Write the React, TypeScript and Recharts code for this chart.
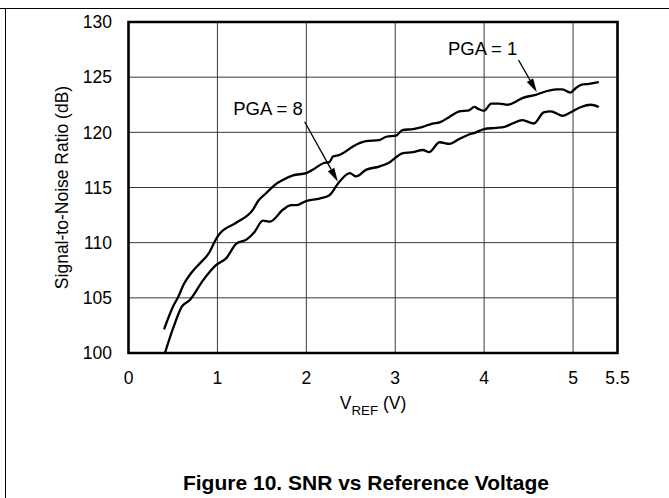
import React from 'react';
import { LineChart, Line, XAxis, YAxis, CartesianGrid, ReferenceArea, ReferenceLine, ReferenceDot } from 'recharts';

const FONT = '"Liberation Sans", Arial, Helvetica, sans-serif';

// PGA = 1 (upper trace)
const pga1Vref = [0.4, 0.5, 0.56, 0.62, 0.71, 0.8, 0.9, 0.99, 1.03, 1.21, 1.4, 1.46, 1.55, 1.64, 1.74, 1.85, 2.0, 2.07, 2.19, 2.26, 2.3, 2.37, 2.41, 2.52, 2.67, 2.82, 2.9, 3.01, 3.08, 3.2, 3.31, 3.42, 3.5, 3.61, 3.72, 3.83, 3.89, 3.94, 4.0, 4.08, 4.17, 4.26, 4.36, 4.43, 4.58, 4.69, 4.81, 4.88, 4.97, 5.03, 5.09, 5.18, 5.29];
const pga1Snr = [102.15, 104.2, 105.1, 106.2, 107.3, 108.1, 109.0, 110.4, 110.85, 111.8, 113.0, 113.8, 114.5, 115.2, 115.7, 116.1, 116.3, 116.6, 117.2, 117.3, 117.8, 117.95, 118.1, 118.7, 119.2, 119.3, 119.6, 119.7, 120.2, 120.3, 120.5, 120.8, 120.9, 121.4, 121.9, 122.0, 122.3, 122.1, 121.95, 122.6, 122.6, 122.5, 122.8, 123.1, 123.4, 123.7, 123.9, 123.9, 123.6, 124.0, 124.3, 124.4, 124.55];

// PGA = 8 (lower trace)
const pga8Vref = [0.41, 0.5, 0.6, 0.69, 0.84, 0.99, 1.1, 1.21, 1.33, 1.42, 1.51, 1.59, 1.74, 1.83, 1.89, 1.99, 2.15, 2.26, 2.37, 2.49, 2.56, 2.67, 2.82, 2.93, 3.08, 3.2, 3.31, 3.38, 3.5, 3.61, 3.72, 3.83, 3.91, 4.0, 4.13, 4.23, 4.32, 4.43, 4.56, 4.67, 4.75, 4.88, 4.97, 5.09, 5.2, 5.29];
const pga8Snr = [100.0, 102.2, 104.2, 104.8, 106.6, 108.0, 108.6, 109.9, 110.3, 111.0, 112.0, 111.9, 113.0, 113.4, 113.4, 113.75, 114.0, 114.3, 115.5, 116.3, 116.0, 116.6, 116.9, 117.25, 118.1, 118.2, 118.4, 118.2, 119.1, 118.95, 119.4, 119.8, 120.0, 120.3, 120.4, 120.5, 120.8, 121.1, 120.8, 121.8, 121.9, 121.5, 121.8, 122.3, 122.5, 122.3];

const xTicks = [0, 1, 2, 3, 4, 5, 5.5];
const yTicks = [100, 105, 110, 115, 120, 125, 130];

const pga1 = pga1Vref.map((v, i) => ({ v, snr: pga1Snr[i] }));
const pga8 = pga8Vref.map((v, i) => ({ v, snr: pga8Snr[i] }));

const Arrow = (props: any) => {
  const { x1, y1, x2, y2 } = props;
  const a = Math.atan2(y2 - y1, x2 - x1);
  const len = 14;
  const half = 3.6;
  const bx = x2 - len * Math.cos(a);
  const by = y2 - len * Math.sin(a);
  const px = -Math.sin(a) * half;
  const py = Math.cos(a) * half;
  return (
    <g>
      <line x1={x1} y1={y1} x2={bx} y2={by} stroke="#000" strokeWidth={1.3} />
      <polygon points={`${x2},${y2} ${bx + px},${by + py} ${bx - px},${by - py}`} fill="#000" />
    </g>
  );
};

const note = (text: string) => (p: any) => (
  <text x={p.cx} y={p.cy} textAnchor="middle" dominantBaseline="central" fontSize={18.5} fontFamily={FONT} fill="#000">
    {text}
  </text>
);

const XLabel = (props: any) => {
  const vb = props.viewBox;
  const cx = vb.x + vb.width / 2;
  return (
    <g>
      <text x={cx} y={vb.y + 56} textAnchor="middle" fontSize={17.5} fontFamily={FONT} fill="#000">
        V<tspan fontSize={13.3} dy={6}>REF</tspan><tspan dy={-6}> (V)</tspan>
      </text>
      <text x={366} y={490} textAnchor="middle" fontSize={21} fontWeight="bold" fontFamily={FONT} fill="#000">
        Figure 10. SNR vs Reference Voltage
      </text>
    </g>
  );
};

const YLabel = (props: any) => {
  const vb = props.viewBox;
  const cy = vb.y + vb.height / 2;
  const x = 68;
  return (
    <text x={x} y={cy} transform={`rotate(-90, ${x}, ${cy})`} textAnchor="middle" fontSize={17.5} fontFamily={FONT} fill="#000">
      Signal-to-Noise Ratio (dB)
    </text>
  );
};

export default function App() {
  return (
    <div style={{ position: 'absolute', left: 0, top: 0, width: 669, height: 498, background: '#fff' }}>
      <div style={{ position: 'absolute', left: 0, top: 8, width: 669, height: 1, background: '#000' }} />
      <div style={{ position: 'absolute', left: 5, top: 8, width: 1, height: 490, background: '#000' }} />
      <LineChart width={669} height={498} margin={{ top: 22, right: 51.5, bottom: 115, left: 68.5 }} style={{ fontFamily: FONT }}>
        <CartesianGrid stroke="#3a3a3a" strokeWidth={1} />
        <XAxis
          type="number"
          dataKey="v"
          domain={[0, 5.5]}
          ticks={xTicks}
          interval={0}
          allowDataOverflow
          height={30}
          axisLine={false}
          tickLine={false}
          tickSize={0}
          tickMargin={19}
          tick={{ fill: '#000', fontSize: 17.5, fontFamily: FONT }}
          label={<XLabel />}
        />
        <YAxis
          type="number"
          domain={[100, 130]}
          ticks={yTicks}
          interval={0}
          allowDataOverflow
          width={60}
          axisLine={false}
          tickLine={false}
          tickSize={0}
          tickMargin={16.5}
          tick={{ fill: '#000', fontSize: 17.5, fontFamily: FONT }}
          label={<YLabel />}
        />
        <ReferenceArea x1={0} x2={5.5} y1={100} y2={130} fill="none" fillOpacity={0} stroke="#000" strokeWidth={2.6} ifOverflow="visible" />
        <Line data={pga1} dataKey="snr" type="monotone" stroke="#000" strokeWidth={2.3} dot={false} isAnimationActive={false} />
        <Line data={pga8} dataKey="snr" type="monotone" stroke="#000" strokeWidth={2.3} dot={false} isAnimationActive={false} />
        <ReferenceLine segment={[{ x: 1.981, y: 120.96 }, { x: 2.355, y: 115.53 }]} shape={Arrow} ifOverflow="visible" />
        <ReferenceLine segment={[{ x: 4.387, y: 126.56 }, { x: 4.593, y: 123.63 }]} shape={Arrow} ifOverflow="visible" />
        <ReferenceDot x={1.569} y={122.13} r={0} shape={note('PGA = 8')} ifOverflow="visible" />
        <ReferenceDot x={3.983} y={127.62} r={0} shape={note('PGA = 1')} ifOverflow="visible" />
      </LineChart>
    </div>
  );
}
